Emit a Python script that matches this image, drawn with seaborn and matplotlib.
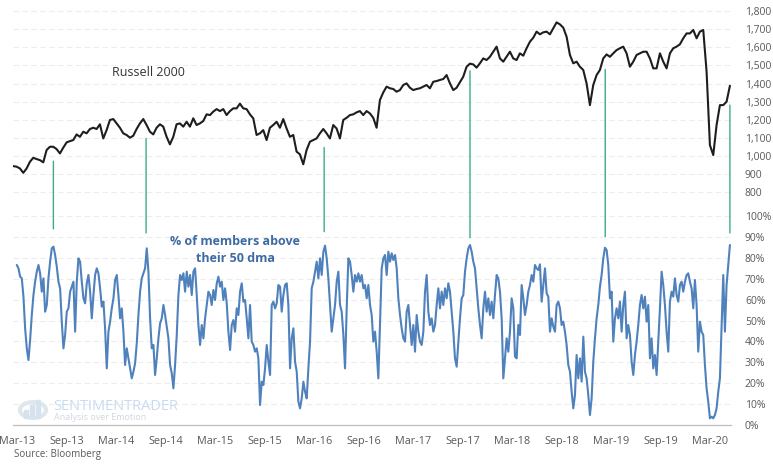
import numpy as np
import pandas as pd
import matplotlib
matplotlib.use('Agg')
import matplotlib.pyplot as plt
import matplotlib.dates as mdates
from matplotlib.patches import ConnectionPatch, Circle, Rectangle
from matplotlib.ticker import FixedLocator, FuncFormatter
import seaborn as sns

sns.set_style('white')
plt.rcParams['font.family'] = ['Open Sans', 'DejaVu Sans']

# ---------------- data ----------------
russell_start, russell_end = '2013-02-15', '2020-05-13'
russell_values = [
    944, 941, 931, 907, 931, 968, 990, 983, 977, 965,
    1033, 1051, 1051, 1038, 1014, 1046, 1075, 1082, 1088, 1119,
    1106, 1134, 1125, 1149, 1156, 1149, 1175, 1097, 1143, 1199,
    1204, 1180, 1156, 1125, 1116, 1101, 1112, 1149, 1180, 1204,
    1171, 1134, 1119, 1156, 1175, 1162, 1106, 1064, 1106, 1175,
    1180, 1162, 1189, 1162, 1208, 1171, 1180, 1193, 1230, 1226,
    1245, 1259, 1248, 1259, 1226, 1248, 1263, 1263, 1289, 1263,
    1259, 1230, 1208, 1116, 1125, 1143, 1088, 1156, 1171, 1189,
    1156, 1204, 1152, 1106, 1116, 1024, 1009, 954, 1033, 1079,
    1088, 1097, 1125, 1149, 1125, 1097, 1171, 1152, 1097, 1199,
    1211, 1226, 1230, 1241, 1248, 1226, 1248, 1235,
    1211, 1156, 1309, 1351, 1383, 1374, 1370, 1355, 1364, 1392,
    1401, 1377, 1364, 1370, 1374, 1383, 1392, 1374, 1410, 1414,
    1420, 1425, 1447, 1401, 1364, 1377, 1407, 1438, 1493, 1510,
    1506, 1488, 1512, 1539, 1530, 1548, 1576, 1604, 1539, 1521,
    1548, 1576, 1539, 1530, 1567, 1554, 1595, 1631, 1653, 1687,
    1672, 1683, 1687, 1672, 1705, 1738, 1727, 1709, 1659, 1558,
    1512, 1521, 1493, 1475, 1401, 1281, 1392, 1447, 1475, 1539,
    1561, 1548, 1567, 1585, 1595, 1604, 1567, 1493, 1521, 1558,
    1567, 1576, 1576, 1539, 1484, 1484, 1567, 1521, 1484, 1567,
    1595, 1604, 1617, 1650, 1677, 1677, 1696, 1650, 1687, 1696,
    1466, 1060, 1005, 1171, 1281, 1281, 1300, 1388,
]

pct_start, pct_end = '2013-02-28', '2020-05-13'
pct_values = [
    76.7, 75.1, 71.1, 70.3, 61.5, 46.3, 36.7, 31.1, 40.7, 52.7,
    62.3, 68.7, 73.5, 76.7, 72.7, 63.9, 70.3, 54.3, 57.5, 70.3,
    78.3, 84.7, 85.5, 81.5, 75.9, 68.7, 65.5, 49.5, 36.7, 43.1,
    54.3, 55.9, 63.9, 66.3, 68.7, 44.7, 68.7, 79.9, 78.3, 68.7,
    60.7, 58.3, 67.9, 71.9, 63.9, 51.1, 62.3, 71.9, 75.1, 72.7,
    65.5, 56.7, 59.1, 46.3, 27.1, 44.7, 49.5, 55.9, 60.7, 69.5,
    71.9, 62.3, 51.1, 55.9, 44.7, 28.7, 36.7, 31.9, 27.1, 22.3,
    25.5, 29.5, 39.1, 52.7, 63.9, 70.3, 72.7, 75.1, 84.7, 73.5,
    51.1, 36.7, 38.3, 23.9, 31.9, 41.5, 48.7, 51.1, 57.5, 52.7,
    47.1, 41.5, 28.7, 24.7, 17.5, 28.7, 43.1, 62.3, 71.9, 69.5,
    72.7, 63.9, 73.5, 66.3, 71.9, 62.3, 73.5, 75.1, 62.3, 47.9,
    38.3, 47.9, 41.5, 51.1, 57.5, 63.9, 62.3, 57.5, 64.7, 59.9,
    67.9, 71.1, 66.3, 68.7, 59.9, 65.5, 58.3, 44.7, 35.9, 47.9,
    50.3, 44.7, 55.9, 52.7, 63.9, 67.9, 59.1, 59.9, 51.1, 41.5,
    57.5,
    39.9, 38.3, 35.1, 36.7, 31.9, 9.5, 20.7, 19.1, 27.1, 38.3,
    30.3, 23.9, 57.5, 59.1, 55.9, 58.3, 67.1, 66.3, 54.3, 62.3,
    67.1, 67.9, 57.5, 27.1, 41.5, 46.3, 30.3, 25.5, 11.1, 7.9,
    12.7, 20.7, 15.9, 12.7, 27.1, 39.9, 65.5, 68.7, 73.5, 78.3,
    70.3, 79.9, 71.9, 83.1, 86.0, 79.9, 70.3, 57.5, 44.7, 51.1,
    57.5, 68.7, 73.5, 57.5, 54.3, 43.1, 27.1, 55.9, 79.9, 78.3,
    71.9, 63.9, 71.9, 68.7, 72.7, 68.7, 71.9, 65.5, 67.1, 60.7,
    67.1, 57.5, 52.7, 39.9, 44.7, 35.1, 22.3, 47.9, 75.1, 79.9,
    81.5, 71.9, 83.1, 78.3, 82.3, 79.1, 81.5, 75.1, 60.7, 52.7,
    46.3, 41.5, 39.9, 54.3, 57.5, 47.9, 38.3, 47.9, 35.1, 52.7,
    44.7, 39.9, 38.3, 44.7, 63.9, 71.9, 54.3, 47.9, 51.1, 44.7,
    47.9, 57.5, 65.5, 55.9, 63.9, 57.5, 65.5, 60.7, 67.9, 63.9,
    54.3, 44.7, 31.9, 27.9, 39.9, 51.1, 60.7, 62.3, 73.5, 79.9,
    84.7, 86.3, 83.1, 78.3, 75.1, 65.5, 55.9, 47.9, 41.5, 55.9,
    63.9, 54.3, 60.7, 52.7, 59.1, 51.1, 62.3,
    71.9, 70.3, 63.9, 51.1, 22.3, 31.9, 41.5, 35.1, 44.7, 60.7,
    55.9, 32.7, 31.9, 47.9, 43.1, 67.1, 60.7, 52.7, 57.5, 63.9,
    67.1, 71.9, 68.7, 76.7, 75.1, 74.3, 77.0, 59.1, 67.1, 75.1,
    63.1, 61.5, 44.7, 51.1, 47.1, 44.7, 57.5, 59.1, 55.9, 47.9,
    49.5, 44.7, 38.3, 28.7, 25.5, 15.9, 7.9, 14.3, 33.5, 22.3,
    31.9, 20.7, 42.3, 25.5, 22.3, 14.3, 4.7, 12.7, 30.3, 41.5,
    51.1, 57.5, 66.3, 71.9, 79.9, 85.0, 83.9, 76.7, 60.7, 63.9,
    39.9, 51.1, 55.9, 51.1, 59.1, 44.7, 57.5, 63.9, 41.5, 47.9,
    43.1, 30.3, 23.9, 33.5, 39.9, 47.9, 57.5, 62.3, 55.9, 61.5,
    49.5, 57.5, 31.9, 41.5, 27.1, 33.5, 23.9, 39.9, 55.9, 73.5,
    67.1, 57.5, 44.7, 35.1, 59.1, 63.9, 61.5, 70.3, 62.3, 59.1,
    67.1, 68.7, 63.9, 68.7, 71.9, 72.7, 68.7, 65.5, 55.9, 69.5,
    57.5, 35.1, 49.5, 44.7, 43.1, 28.7, 17.5, 11.1, 3.1, 3.9,
    3.1, 4.7, 7.9, 15.9, 22.3, 47.9, 71.9, 44.7, 67.1, 76.7,
    86.3,
]

peak_dates = ['2013-07-13', '2014-06-20', '2016-04-07', '2017-09-27', '2019-02-08', '2020-05-13']
peak_top_russell = [971, 1097, 1047, 1470, 1478, 1281]
peak_bottom_pct = [94.0, 92.1, 92.7, 89.8, 90.3, 92.1]

russell_ticks = [800, 900, 1000, 1100, 1200, 1300, 1400, 1500, 1600, 1700, 1800]
pct_ticks = [0, 10, 20, 30, 40, 50, 60, 70, 80, 90, 100]
x_range = ('2013-02-14', '2020-05-17')

df_r = pd.DataFrame({'date': pd.date_range(russell_start, russell_end, periods=len(russell_values)),
                     'value': russell_values})
df_p = pd.DataFrame({'date': pd.date_range(pct_start, pct_end, periods=len(pct_values)),
                     'value': pct_values})

# ---------------- figure ----------------
W, H = 773, 468
fig = plt.figure(figsize=(W / 100, H / 100), dpi=100)
ax_p = fig.add_axes([13 / W, 43 / H, 718 / W, 420 / H])
ax_r = ax_p.twinx()

grid_kw = dict(color='#ededed', linewidth=0.8, linestyle=(0, (5, 3)))
label_color = '#595959'
fs = 7.8

sns.lineplot(data=df_p, x='date', y='value', ax=ax_p, color='#4f81bd', linewidth=1.5)
sns.lineplot(data=df_r, x='date', y='value', ax=ax_r, color='#1e1e1e', linewidth=1.5)

ax_p.set_xlim(pd.Timestamp(x_range[0]), pd.Timestamp(x_range[1]))
ax_p.set_ylim(-0.1, 201.5)
ax_r.set_ylim(-486, 1834)

for ax in (ax_p, ax_r):
    ax.set_xlabel('')
    ax.set_ylabel('')
    for s in ax.spines.values():
        s.set_visible(False)

ax_p.spines['bottom'].set_visible(True)
ax_p.spines['bottom'].set_color('#bfbfbf')
ax_p.spines['bottom'].set_linewidth(0.9)

# y axes (both on right)
ax_p.yaxis.tick_right()
ax_p.yaxis.set_major_locator(FixedLocator(pct_ticks))
ax_p.yaxis.set_major_formatter(FuncFormatter(lambda v, p: f'{v:.0f}%'))
ax_r.yaxis.set_major_locator(FixedLocator(russell_ticks))
ax_r.yaxis.set_major_formatter(FuncFormatter(lambda v, p: f'{v:,.0f}'))
for ax in (ax_p, ax_r):
    ax.tick_params(axis='y', length=0, pad=10, labelsize=7.5, labelcolor=label_color,
                   left=False, right=True, labelleft=False, labelright=True)
    for lab in ax.get_yticklabels():
        lab.set_horizontalalignment('left')

for t in pct_ticks[1:]:
    ax_p.axhline(t, zorder=0, **grid_kw)
for t in russell_ticks:
    ax_r.axhline(t, zorder=0, **grid_kw)

# x axis
ax_p.xaxis.set_major_locator(mdates.MonthLocator(bymonth=(3, 9)))
ax_p.xaxis.set_major_formatter(mdates.DateFormatter('%b-%y'))
ax_p.tick_params(axis='x', length=5, width=0.9, color='#bfbfbf', labelsize=fs,
                 labelcolor=label_color, pad=3)
ax_r.tick_params(axis='x', bottom=False, top=False, labelbottom=False, labeltop=False)

# green connector lines
for d, top, bot in zip(peak_dates, peak_top_russell, peak_bottom_pct):
    xd = mdates.date2num(pd.Timestamp(d))
    con = ConnectionPatch(xyA=(xd, top), coordsA=ax_r.transData,
                          xyB=(xd, bot), coordsB=ax_p.transData,
                          color='#3daa88', linewidth=1.0, clip_on=False)
    ax_r.add_artist(con)

# annotations
def fx(px):
    return px / W

def fy(py):
    return 1 - py / H

fig.text(fx(148), fy(72), 'Russell 2000', ha='center', va='center', fontsize=9, color='#333333')
fig.text(fx(235), fy(250), '% of members above\ntheir 50 dma', ha='center', va='center',
         fontsize=9, fontweight='bold', color='#3d6aa3', linespacing=1.35)
fig.text(fx(14), fy(455), 'Source: Bloomberg', ha='left', va='center', fontsize=7, color=label_color)

# watermark
fig.text(fx(53), fy(407), 'SENTIMENTRADER', ha='left', va='center', fontsize=10.5,
         color='#c2d8ee', alpha=0.9)
fig.text(fx(54), fy(418), 'Analysis over Emotion', ha='left', va='center', fontsize=6.5,
         color='#d0d8e0')
circ = Circle((fx(33), fy(410)), 13 / W, transform=fig.transFigure, fill=False,
              edgecolor='#dfe6ec', linewidth=3)
fig.patches.append(circ)
for i, hgt in enumerate([8, 13, 18]):
    fig.patches.append(Rectangle((fx(24 + i * 6), fy(418)), 4 / W, hgt / H,
                                 transform=fig.transFigure, color='#d6e3ef'))

fig.savefig('out.png', dpi=100)
